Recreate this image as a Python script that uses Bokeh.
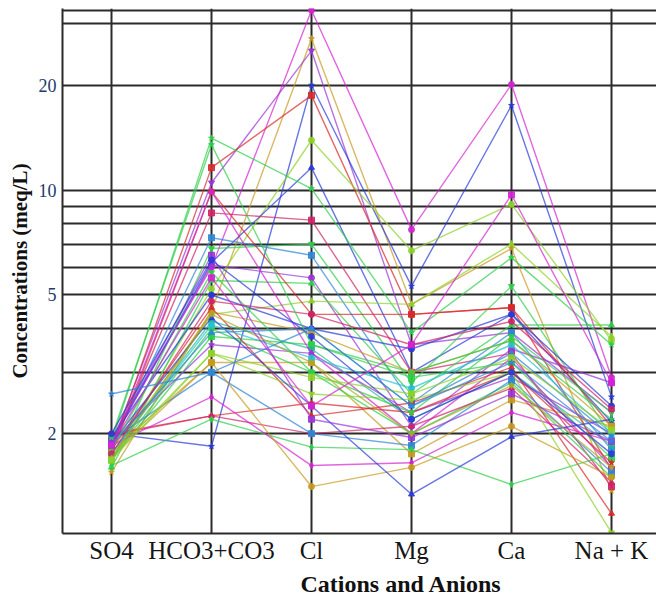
from bokeh.plotting import figure
from bokeh.models import FixedTicker, NumeralTickFormatter, Title, Range1d
from bokeh.embed import file_html
from bokeh.resources import INLINE

IONS = ["SO4", "HCO3+CO3", "Cl", "Mg", "Ca", "Na + K"]
Y_TICKS = [2, 5, 10, 20]
Y_GRID = [2, 3, 4, 5, 6, 7, 8, 9, 10, 20, 30, 32.8]

SO4 = [1.95, 1.55, 1.85, 2.0, 1.8, 1.7, 1.9, 1.9, 1.8, 1.65, 1.85, 1.9, 1.6, 1.75, 1.75,
       1.95, 1.7, 1.68, 1.75, 1.8, 1.9, 1.72, 1.7, 2.0, 1.8, 1.98, 1.92, 1.62, 1.85, 1.78,
       1.72, 1.88, 1.75, 1.8, 1.9, 1.75, 1.7, 1.85, 1.68, 1.95, 1.85, 2.0, 2.6]
HCO3 = [6.0, 4.5, 10.5, 1.84, 11.6, 5.2, 6.2, 14.1, 8.6, 6.8, 7.3, 6.1, 5.5, 4.4, 9.9,
        5.0, 4.47, 3.8, 4.2, 9.9, 3.6, 3.2, 4.0, 2.25, 4.6, 2.25, 3.0, 2.2, 2.55, 3.2,
        3.4, 4.3, 4.1, 5.8, 6.5, 4.8, 4.4, 3.9, 3.4, 13.5, 5.6, 6.3, 3.0]
CL = [32.8, 27.2, 25.1, 20.0, 18.7, 13.9, 11.6, 10.1, 8.2, 7.0, 6.5, 5.6, 5.4, 4.8, 4.4,
      4.0, 3.9, 3.6, 3.5, 3.4, 3.4, 3.2, 3.0, 2.45, 2.25, 2.0, 2.0, 1.83, 1.62, 1.41,
      2.6, 2.4, 3.3, 3.0, 2.2, 4.4, 3.2, 4.0, 2.9, 3.6, 2.4, 3.8, 4.0]
MG = [7.7, 4.7, 3.6, 5.3, 4.4, 6.7, 3.0, 3.9, 3.0, 2.8, 2.45, 2.1, 2.6, 4.7, 4.4,
      3.5, 3.0, 2.9, 2.2, 2.0, 2.3, 1.75, 2.0, 2.3, 2.45, 2.1, 1.85, 1.8, 1.65, 1.6,
      2.5, 1.34, 2.7, 2.3, 1.95, 3.6, 2.0, 2.4, 2.6, 3.0, 3.6, 2.2, 2.4]
CA = [20.1, 6.8, 3.9, 17.5, 4.6, 9.1, 4.4, 6.4, 3.4, 5.3, 3.9, 3.5, 4.1, 7.0, 4.6,
      4.4, 3.7, 3.2, 3.0, 3.3, 2.9, 2.5, 2.8, 3.0, 3.1, 2.7, 2.85, 1.43, 2.3, 2.1,
      3.0, 1.96, 3.6, 3.8, 2.6, 4.2, 2.75, 3.4, 3.3, 3.7, 9.7, 3.0, 3.2]
NAK = [2.9, 1.37, 2.3, 2.55, 1.58, 3.7, 2.16, 3.6, 1.41, 1.97, 1.8, 2.8, 4.1, 3.8, 2.1,
       2.4, 2.1, 1.7, 1.85, 1.6, 2.0, 2.1, 1.5, 1.65, 1.18, 1.45, 1.55, 1.75, 1.9, 1.5,
       1.04, 2.2, 2.0, 2.3, 1.9, 2.35, 1.6, 1.97, 2.05, 2.2, 2.8, 1.75, 1.9]

PAL = {
    "magenta": "#d424d4", "gold": "#c89a1e", "purple": "#9b34d8", "blue": "#2a3ad8",
    "red": "#d82a2a", "lime": "#8fd12a", "green": "#2ecf4a", "crimson": "#d02466",
    "steel": "#2f86d6", "teal": "#1fb59a", "cyan": "#25c2d0", "olive": "#a8a828",
}
STYLE = [
    ("magenta", "circle"), ("gold", "star"), ("purple", "inverted_triangle"), ("blue", "star"),
    ("red", "square"), ("lime", "circle"), ("blue", "triangle"), ("green", "star"),
    ("crimson", "square"), ("green", "inverted_triangle"), ("steel", "square"), ("purple", "circle"),
    ("green", "triangle"), ("lime", "triangle"), ("red", "circle"), ("blue", "circle"),
    ("gold", "circle"), ("green", "square"), ("teal", "circle"), ("magenta", "triangle"),
    ("purple", "star"), ("gold", "square"), ("green", "circle"), ("red", "star"),
    ("red", "triangle"), ("crimson", "triangle"), ("steel", "square"), ("green", "diamond"),
    ("magenta", "diamond"), ("gold", "circle"), ("lime", "inverted_triangle"), ("blue", "triangle"),
    ("cyan", "circle"), ("green", "inverted_triangle"), ("purple", "square"), ("crimson", "circle"),
    ("olive", "diamond"), ("steel", "triangle"), ("lime", "square"), ("green", "star"),
    ("magenta", "square"), ("blue", "circle"), ("steel", "star"),
]

FONT = "Liberation Serif"
GRID_COLOR = "#2b2b2b"

p = figure(width=656, height=598, y_axis_type="log",
           x_range=Range1d(-0.49, 5.45), y_range=Range1d(1.034, 33.2),
           output_backend="svg", toolbar_location=None,
           min_border_left=62, min_border_right=0, min_border_top=8, min_border_bottom=64)
p.outline_line_color = None
p.background_fill_color = "white"
p.border_fill_color = "white"

xs = list(range(len(IONS)))
for i, vals in enumerate(zip(SO4, HCO3, CL, MG, CA, NAK)):
    cname, marker = STYLE[i % len(STYLE)]
    c = PAL[cname]
    p.line(xs, list(vals), line_color=c, line_width=1.4, line_alpha=0.7)
    p.scatter(xs, list(vals), marker=marker, size=6, fill_color=c, line_color=c,
              fill_alpha=0.9, line_alpha=0.9)

# x axis
p.xaxis.ticker = FixedTicker(ticks=xs)
p.xaxis.major_label_overrides = {i: t for i, t in enumerate(IONS)}
p.xaxis.major_label_text_font = FONT
p.xaxis.major_label_text_font_size = "25px"
p.xaxis.major_label_text_color = "#151515"
p.xaxis.major_label_standoff = 3
p.xaxis.major_tick_line_color = None
p.xaxis.major_tick_out = 0
p.xaxis.major_tick_in = 0
p.xaxis.minor_tick_line_color = None
p.xaxis.minor_tick_out = 0
p.xaxis.axis_line_color = GRID_COLOR
p.xaxis.axis_line_width = 2

# y axis
p.yaxis.ticker = FixedTicker(ticks=Y_TICKS)
p.yaxis.formatter = NumeralTickFormatter(format="0")
p.yaxis.major_label_text_font = FONT
p.yaxis.major_label_text_font_size = "18px"
p.yaxis.major_label_text_color = "#243a6b"
p.yaxis.major_label_standoff = 6
p.yaxis.major_tick_line_color = None
p.yaxis.major_tick_out = 0
p.yaxis.major_tick_in = 0
p.yaxis.minor_tick_line_color = None
p.yaxis.minor_tick_out = 0
p.yaxis.axis_line_color = GRID_COLOR
p.yaxis.axis_line_width = 2
p.yaxis.axis_label = "Concentrations (meq/L)"
p.yaxis.axis_label_text_font = FONT
p.yaxis.axis_label_text_font_size = "21px"
p.yaxis.axis_label_text_font_style = "bold"
p.yaxis.axis_label_text_color = "#111111"
p.yaxis.axis_label_standoff = 4

# grids
p.xgrid.grid_line_color = GRID_COLOR
p.xgrid.grid_line_width = 2
p.ygrid.ticker = FixedTicker(ticks=Y_GRID)
p.ygrid.grid_line_color = GRID_COLOR
p.ygrid.grid_line_width = 2

p.add_layout(Title(text="Cations and Anions", align="left", offset=238,
                   text_font=FONT, text_font_size="24px", text_font_style="bold",
                   text_color="#111111", standoff=4), "below")

open("out.html", "w").write(file_html(p, INLINE))
